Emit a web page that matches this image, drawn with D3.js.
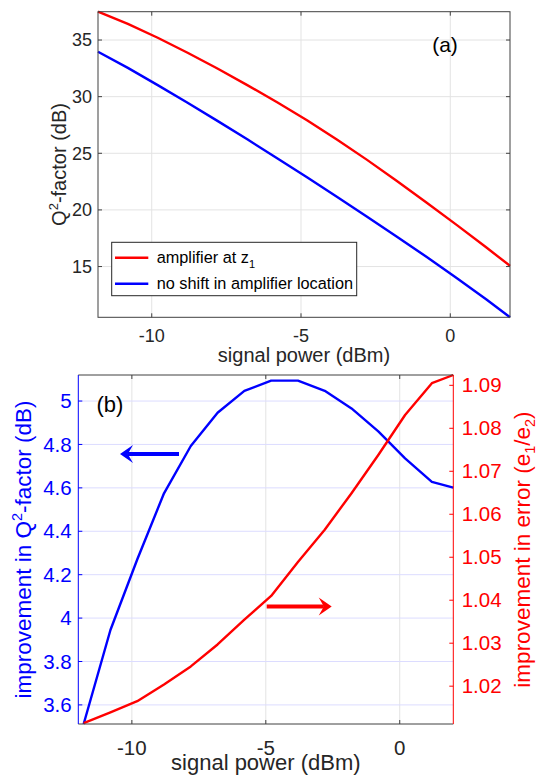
<!DOCTYPE html>
<html>
<head>
<meta charset="utf-8">
<script src="https://cdn.jsdelivr.net/npm/d3@7"></script>
<style>
  html, body { margin: 0; padding: 0; background: #fff; }
  svg { display: block; font-family: "Liberation Sans", Arial, Helvetica, sans-serif; }
</style>
</head>
<body>
<svg id="chart" width="539" height="775"></svg>
<script>
// ---------- data ----------
const signalPower = [-11.8, -10.8, -9.8, -8.8, -7.8, -6.8, -5.8, -4.8, -3.8, -2.8, -1.8, -0.8, 0.2, 1.2, 2.0];

// (a) Q^2-factor (dB)
const q2AmplifierAtZ1 = [37.5, 36.42, 35.2, 33.88, 32.48, 31.02, 29.5, 27.92, 26.22, 24.44, 22.58, 20.66, 18.7, 16.7, 15.06];
const q2NoShift      = [33.97, 32.54, 31.02, 29.46, 27.86, 26.23, 24.57, 22.88, 21.17, 19.43, 17.66, 15.86, 14.02, 12.12, 10.52];

// (b) improvements
const q2Improvement    = [3.512, 3.945, 4.27, 4.575, 4.793, 4.946, 5.047, 5.094, 5.094, 5.047, 4.966, 4.86, 4.736, 4.628, 4.601];
const errorImprovement = [1.0114, 1.0139, 1.0165, 1.0204, 1.0246, 1.0297, 1.0355, 1.0410, 1.0489, 1.0564, 1.0649, 1.0738, 1.0831, 1.0905, 1.0924];

const xTicks = [-10, -5, 0];
const yTicksA = [15, 20, 25, 30, 35];
const yTicksLeftB = [3.6, 3.8, 4, 4.2, 4.4, 4.6, 4.8, 5];
const yTicksRightB = [1.02, 1.03, 1.04, 1.05, 1.06, 1.07, 1.08, 1.09];

const xLimA = [-11.8, 2];
const yLimA = [10.52, 37.5];
const xLimB = [-12, 2];
const yLimLeftB = [3.512, 5.12];
const yLimRightB = [1.0112, 1.0924];

const legendLabels = ["amplifier at z", "no shift in amplifier location"];

// ---------- drawing ----------
const svg = d3.select("#chart");
const AX = "#404040", TXT = "#262626", RED = "#ff0000", BLUE = "#0000ff";
const GRID = "#e3e3e3", GRIDB = "#dcdcff";
const TL = 4, LW = 2.4;

// ===== Panel (a) =====
const A = {l: 98, r: 510, t: 11.7, b: 317.3};
const xa = d3.scaleLinear().domain(xLimA).range([A.l, A.r]);
const ya = d3.scaleLinear().domain(yLimA).range([A.b, A.t]);
const ga = svg.append("g");

// grid
ga.selectAll(".vg").data(xTicks).enter().append("line")
  .attr("x1", d => xa(d)).attr("x2", d => xa(d)).attr("y1", A.t).attr("y2", A.b)
  .attr("stroke", GRID).attr("stroke-width", 1);
ga.selectAll(".hg").data(yTicksA).enter().append("line")
  .attr("x1", A.l).attr("x2", A.r).attr("y1", d => ya(d)).attr("y2", d => ya(d))
  .attr("stroke", GRID).attr("stroke-width", 1);

// lines
const lineA = (vals) => d3.line().x((d, i) => xa(signalPower[i])).y(d => ya(d))(vals);
ga.append("path").attr("d", lineA(q2AmplifierAtZ1)).attr("fill", "none").attr("stroke", RED).attr("stroke-width", LW).attr("stroke-linejoin", "round");
ga.append("path").attr("d", lineA(q2NoShift)).attr("fill", "none").attr("stroke", BLUE).attr("stroke-width", LW).attr("stroke-linejoin", "round");

// box & ticks
ga.append("rect").attr("x", A.l).attr("y", A.t).attr("width", A.r - A.l).attr("height", A.b - A.t)
  .attr("fill", "none").attr("stroke", AX).attr("stroke-width", 1);
xTicks.forEach(t => {
  ga.append("line").attr("x1", xa(t)).attr("x2", xa(t)).attr("y1", A.b).attr("y2", A.b - TL).attr("stroke", AX);
  ga.append("line").attr("x1", xa(t)).attr("x2", xa(t)).attr("y1", A.t).attr("y2", A.t + TL).attr("stroke", AX);
  ga.append("text").attr("x", xa(t)).attr("y", 342).attr("text-anchor", "middle")
    .attr("font-size", 18).attr("fill", TXT).text(t);
});
yTicksA.forEach(t => {
  ga.append("line").attr("x1", A.l).attr("x2", A.l + TL).attr("y1", ya(t)).attr("y2", ya(t)).attr("stroke", AX);
  ga.append("line").attr("x1", A.r).attr("x2", A.r - TL).attr("y1", ya(t)).attr("y2", ya(t)).attr("stroke", AX);
  ga.append("text").attr("x", 92).attr("y", ya(t)).attr("dy", "0.35em").attr("text-anchor", "end")
    .attr("font-size", 18).attr("fill", TXT).text(t);
});
// labels
ga.append("text").attr("x", (A.l + A.r) / 2).attr("y", 362).attr("text-anchor", "middle")
  .attr("font-size", 20).attr("fill", TXT).text("signal power (dBm)");
const yla = ga.append("text").attr("transform", `translate(66,${(A.t + A.b) / 2}) rotate(-90)`)
  .attr("text-anchor", "middle").attr("font-size", 20).attr("fill", TXT);
yla.append("tspan").text("Q");
yla.append("tspan").attr("dy", -8).attr("font-size", 13).text("2");
yla.append("tspan").attr("dy", 8).text("-factor (dB)");
ga.append("text").attr("x", 445).attr("y", 52.3).attr("text-anchor", "middle")
  .attr("font-size", 21).attr("fill", "#000").text("(a)");

// legend
const lg = ga.append("g");
lg.append("rect").attr("x", 111.7).attr("y", 242.3).attr("width", 245).attr("height", 53.4)
  .attr("fill", "#fff").attr("stroke", TXT).attr("stroke-width", 1);
[RED, BLUE].forEach((c, i) => {
  const yy = 257.7 + i * 26;
  lg.append("line").attr("x1", 115).attr("x2", 148.3).attr("y1", yy).attr("y2", yy).attr("stroke", c).attr("stroke-width", LW);
  const t = lg.append("text").attr("x", 156.7).attr("y", yy + 5.5).attr("font-size", 16.3).attr("fill", "#000");
  t.append("tspan").text(legendLabels[i]);
  if (i === 0) t.append("tspan").attr("dy", 5).attr("font-size", 11).text("1");
});

// ===== Panel (b) =====
const B = {l: 78.3, r: 453.3, t: 375, b: 724};
const xb = d3.scaleLinear().domain(xLimB).range([B.l, B.r]);
const ybl = d3.scaleLinear().domain(yLimLeftB).range([B.b, B.t]);
const ybr = d3.scaleLinear().domain(yLimRightB).range([B.b, B.t]);
const gb = svg.append("g");

gb.selectAll(".vg").data(xTicks).enter().append("line")
  .attr("x1", d => xb(d)).attr("x2", d => xb(d)).attr("y1", B.t).attr("y2", B.b)
  .attr("stroke", GRID).attr("stroke-width", 1);
gb.selectAll(".hg").data(yTicksLeftB).enter().append("line")
  .attr("x1", B.l).attr("x2", B.r).attr("y1", d => ybl(d)).attr("y2", d => ybl(d))
  .attr("stroke", GRIDB).attr("stroke-width", 1);

gb.append("path")
  .attr("d", d3.line().x((d, i) => xb(signalPower[i])).y(d => ybl(d))(q2Improvement))
  .attr("fill", "none").attr("stroke", BLUE).attr("stroke-width", LW).attr("stroke-linejoin", "round");
gb.append("path")
  .attr("d", d3.line().x((d, i) => xb(signalPower[i])).y(d => ybr(d))(errorImprovement))
  .attr("fill", "none").attr("stroke", RED).attr("stroke-width", LW).attr("stroke-linejoin", "round");

// axes lines
gb.append("line").attr("x1", B.l).attr("x2", B.r).attr("y1", B.t).attr("y2", B.t).attr("stroke", AX);
gb.append("line").attr("x1", B.l).attr("x2", B.r).attr("y1", B.b).attr("y2", B.b).attr("stroke", AX);
gb.append("line").attr("x1", B.l).attr("x2", B.l).attr("y1", B.t).attr("y2", B.b).attr("stroke", BLUE);
gb.append("line").attr("x1", B.r).attr("x2", B.r).attr("y1", B.t).attr("y2", B.b).attr("stroke", RED);

xTicks.forEach(t => {
  gb.append("line").attr("x1", xb(t)).attr("x2", xb(t)).attr("y1", B.b).attr("y2", B.b - TL).attr("stroke", AX);
  gb.append("line").attr("x1", xb(t)).attr("x2", xb(t)).attr("y1", B.t).attr("y2", B.t + TL).attr("stroke", AX);
  gb.append("text").attr("x", xb(t)).attr("y", 755).attr("text-anchor", "middle")
    .attr("font-size", 20.5).attr("fill", TXT).text(t);
});
const fmtL = d3.format(".1f");
yTicksLeftB.forEach(t => {
  gb.append("line").attr("x1", B.l).attr("x2", B.l + TL).attr("y1", ybl(t)).attr("y2", ybl(t)).attr("stroke", BLUE);
  gb.append("text").attr("x", 71.7).attr("y", ybl(t)).attr("dy", "0.35em").attr("text-anchor", "end")
    .attr("font-size", 20.5).attr("fill", BLUE).text(t === 4 || t === 5 ? String(t) : fmtL(t));
});
yTicksRightB.forEach(t => {
  gb.append("line").attr("x1", B.r).attr("x2", B.r - TL).attr("y1", ybr(t)).attr("y2", ybr(t)).attr("stroke", RED);
  gb.append("text").attr("x", 461.7).attr("y", ybr(t)).attr("dy", "0.35em").attr("text-anchor", "start")
    .attr("font-size", 20.5).attr("fill", RED).text(d3.format(".2f")(t));
});

gb.append("text").attr("x", (B.l + B.r) / 2).attr("y", 769.5).attr("text-anchor", "middle")
  .attr("font-size", 22).attr("fill", TXT).text("signal power (dBm)");

const ylb = gb.append("text").attr("transform", `translate(31,${(B.t + B.b) / 2}) rotate(-90)`)
  .attr("text-anchor", "middle").attr("font-size", 22.5).attr("fill", BLUE);
ylb.append("tspan").text("improvement in Q");
ylb.append("tspan").attr("dy", -9).attr("font-size", 14.5).text("2");
ylb.append("tspan").attr("dy", 9).text("-factor (dB)");

const yrb = gb.append("text").attr("transform", `translate(530,${(B.t + B.b) / 2}) rotate(-90)`)
  .attr("text-anchor", "middle").attr("font-size", 22.5).attr("fill", RED);
yrb.append("tspan").text("improvement in error (e");
yrb.append("tspan").attr("dy", 5).attr("font-size", 14.5).text("1");
yrb.append("tspan").attr("dy", -5).text("/e");
yrb.append("tspan").attr("dy", 5).attr("font-size", 14.5).text("2");
yrb.append("tspan").attr("dy", -5).text(")");

gb.append("text").attr("x", 110).attr("y", 412).attr("text-anchor", "middle")
  .attr("font-size", 22).attr("fill", "#000").text("(b)");

// arrows
function arrow(x1, x2, y, color) {
  const dir = Math.sign(x2 - x1);
  const hl = 13, hw = 9;
  gb.append("line").attr("x1", x1).attr("x2", x2 - dir * hl * 0.6).attr("y1", y).attr("y2", y)
    .attr("stroke", color).attr("stroke-width", 4);
  gb.append("path")
    .attr("d", `M${x2},${y} L${x2 - dir * hl},${y - hw} L${x2 - dir * hl * 0.6},${y} L${x2 - dir * hl},${y + hw} Z`)
    .attr("fill", color);
}
arrow(179, 120, 454, BLUE);
arrow(266.7, 331.7, 606.5, RED);
</script>
</body>
</html>
